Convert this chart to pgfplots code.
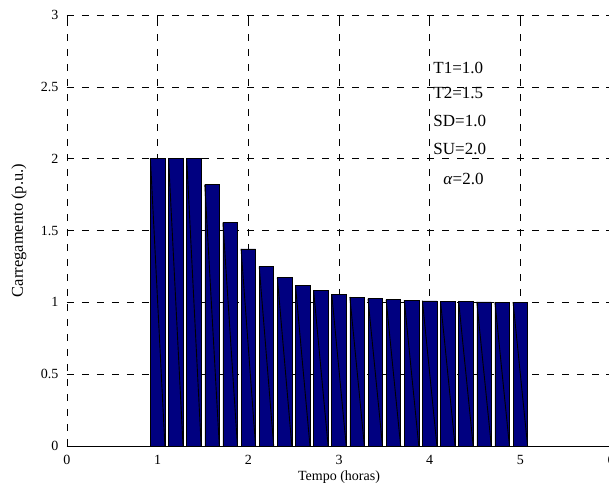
\documentclass[border=0pt]{standalone}
\usepackage{pgfplots}
\pgfplotsset{compat=1.18}
\usepackage{fontspec}
\setmainfont{Liberation Serif}
\definecolor{barblue}{RGB}{0,0,128}
\begin{document}
\begin{tikzpicture}
\begin{axis}[
  scale only axis,
  width=544bp, height=431bp,
  xmin=0, xmax=6, ymin=0, ymax=3,
  xtick={0,1,2,3,4,5,6},
  ytick={0,0.5,1,1.5,2,2.5,3},
  yticklabels={0,0.5,1,1.5,2,2.5,3},
  /pgf/number format/assume math mode=true,
  tick label style={font=\fontsize{14bp}{16bp}\selectfont},
  tick align=inside,
  major tick length=5bp,
  tick style={black, line width=0.5bp},
  axis line style={draw=none},
  grid=major,
  major grid style={black, line width=0.6bp, dash pattern=on 7bp off 8bp},
  xlabel={Tempo (horas)},
  ylabel={Carregamento (p.u.)},
  xlabel style={font=\fontsize{14bp}{16bp}\selectfont, at={(rel axis cs:0.5,0)}, anchor=center, yshift=-31bp},
  ylabel style={font=\fontsize{16.5bp}{18bp}\selectfont, at={(rel axis cs:0,0.5)}, anchor=center, rotate=0, yshift=48bp},
  xticklabel style={yshift=-6bp},
  yticklabel style={xshift=-5bp},
  clip=false,
]
\addplot[ybar, bar width=0.16, fill=barblue, draw=black, line width=0.5bp] coordinates {
(1.0,2.0) (1.2,2.0) (1.4,2.0) (1.6,1.82) (1.8,1.555) (2.0,1.372) (2.2,1.25) (2.4,1.172)
(2.6,1.118) (2.8,1.082) (3.0,1.056) (3.2,1.037) (3.4,1.025) (3.6,1.018) (3.8,1.014)
(4.0,1.011) (4.2,1.007) (4.4,1.005) (4.6,1.003) (4.8,1.002) (5.0,1.001)
};
\addplot[black, line width=0.9bp, unbounded coords=jump] coordinates {
(0.92,2.0) (1.08,0) (1.1,nan)
(1.12,2.0) (1.28,0) (1.3,nan)
(1.32,2.0) (1.48,0) (1.5,nan)
(1.52,1.82) (1.68,0) (1.7,nan)
(1.72,1.555) (1.88,0) (1.9,nan)
(1.92,1.372) (2.08,0) (2.1,nan)
(2.12,1.25) (2.28,0) (2.3,nan)
(2.32,1.172) (2.48,0) (2.5,nan)
(2.52,1.118) (2.68,0) (2.7,nan)
(2.72,1.082) (2.88,0) (2.9,nan)
(2.92,1.056) (3.08,0) (3.1,nan)
(3.12,1.037) (3.28,0) (3.3,nan)
(3.32,1.025) (3.48,0) (3.5,nan)
(3.52,1.018) (3.68,0) (3.7,nan)
(3.72,1.014) (3.88,0) (3.9,nan)
(3.92,1.011) (4.08,0) (4.1,nan)
(4.12,1.007) (4.28,0) (4.3,nan)
(4.32,1.005) (4.48,0) (4.5,nan)
(4.52,1.003) (4.68,0) (4.7,nan)
(4.72,1.002) (4.88,0) (4.9,nan)
(4.92,1.001) (5.08,0)
};
\draw[black, line width=0.8bp] (rel axis cs:0,0) -- (rel axis cs:1,0);
\begin{scope}[every node/.style={anchor=west, inner sep=0pt, font=\fontsize{17bp}{19bp}\selectfont}]
\node at (axis cs:4.04,2.632) {T1=1.0};
\node at (axis cs:4.04,2.46) {T2=1.5};
\node at (axis cs:4.04,2.26) {SD=1.0};
\node at (axis cs:4.04,2.07) {SU=2.0};
\node at (axis cs:4.15,1.86) {\textit{α}=2.0};
\end{scope}
\end{axis}
\pgfresetboundingbox
\path[use as bounding box] (-67bp,-40bp) rectangle (542bp,446bp);
\end{tikzpicture}
\end{document}
